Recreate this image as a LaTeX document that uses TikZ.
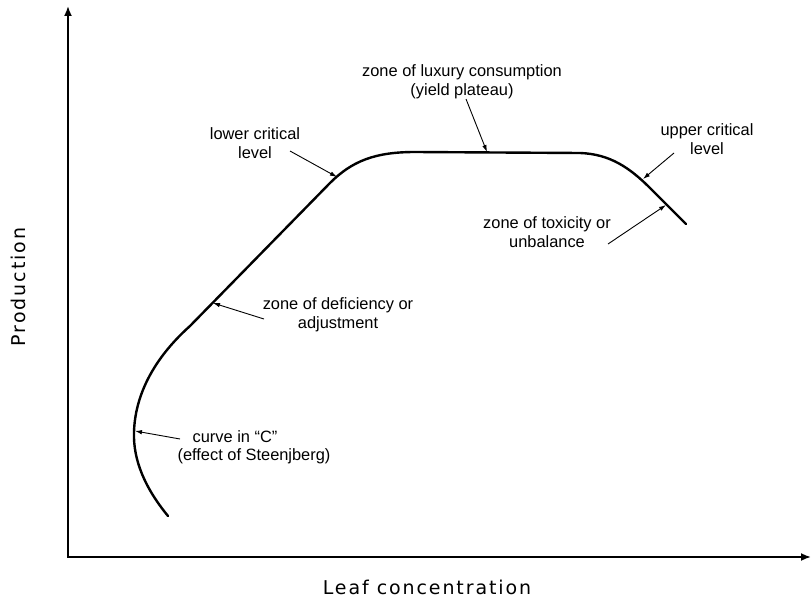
\documentclass[tikz,border=0pt]{standalone}
\usepackage{fontspec}
\setmainfont{Liberation Sans}
\newfontfamily\axisfont[LetterSpace=10]{DejaVu Sans}
\usetikzlibrary{arrows.meta}
\begin{document}
\begin{tikzpicture}[x=1pt,y=-1pt,
  lab/.style={font=\fontsize{16.4}{19}\selectfont, align=center, inner sep=0pt},
  axlab/.style={font=\axisfont\fontsize{19}{22}\selectfont, inner sep=0pt},
  curveline/.style={line width=2.4pt, line cap=round, line join=round},
  axisline/.style={line width=1.8pt, line join=miter},
  pointer/.style={line width=0.9pt, -{Latex[length=7pt,width=4.5pt]}}]
\useasboundingbox (0,0) rectangle (812,599);
% axes
\coordinate (Ytop) at (68,6);
\coordinate (O) at (68,557);
\coordinate (Xend) at (811,557);
\draw[axisline, {Latex[length=10pt,width=8pt]}-{Latex[length=10pt,width=8pt]}] (Ytop) -- (O) -- (Xend);
% response curve
\draw[curveline] (168,516) .. controls (145,488) and (133,460) .. (134,432)
  .. controls (135,397) and (152,360) .. (190,326)
  -- (330,183)
  .. controls (352,161) and (375,152) .. (415,152)
  -- (580,153)
  .. controls (610,154) and (630,168) .. (650,188)
  -- (686,224);
% labels
\node[lab] (lux) at (462,81.5) {zone of luxury consumption\\(yield plateau)};
\node[lab] (lcl) at (255,143.5) {lower critical\\level};
\node[lab] (ucl) at (707,139) {upper critical\\level};
\node[lab] (tox) at (547,232.5) {zone of toxicity or\\unbalance};
\node[lab] (def) at (338,314.5) {zone of deficiency or\\adjustment};
\node[lab] (cc1) at (235,437) {curve in ``C''};
\node[lab] (cc2) at (254,456) {(effect of Steenjberg)};
\node[axlab] (xl) at (427,587) {Leaf concentration};
\node[axlab, rotate=90] (yl) at (18,287) {Production};
% pointer ends
\coordinate (luxS) at (466,99);  \coordinate (luxE) at (487,152);
\coordinate (lclS) at (290,151); \coordinate (lclE) at (337,177);
\coordinate (uclS) at (674,153); \coordinate (uclE) at (643,179);
\coordinate (toxS) at (608,244); \coordinate (toxE) at (666,205);
\coordinate (defS) at (264,319); \coordinate (defE) at (213,303);
\coordinate (ccS) at (180,439);  \coordinate (ccE) at (135,431);
\draw[pointer] (luxS) -- (luxE);
\draw[pointer] (lclS) -- (lclE);
\draw[pointer] (uclS) -- (uclE);
\draw[pointer] (toxS) -- (toxE);
\draw[pointer] (defS) -- (defE);
\draw[pointer] (ccS) -- (ccE);
\end{tikzpicture}
\end{document}
